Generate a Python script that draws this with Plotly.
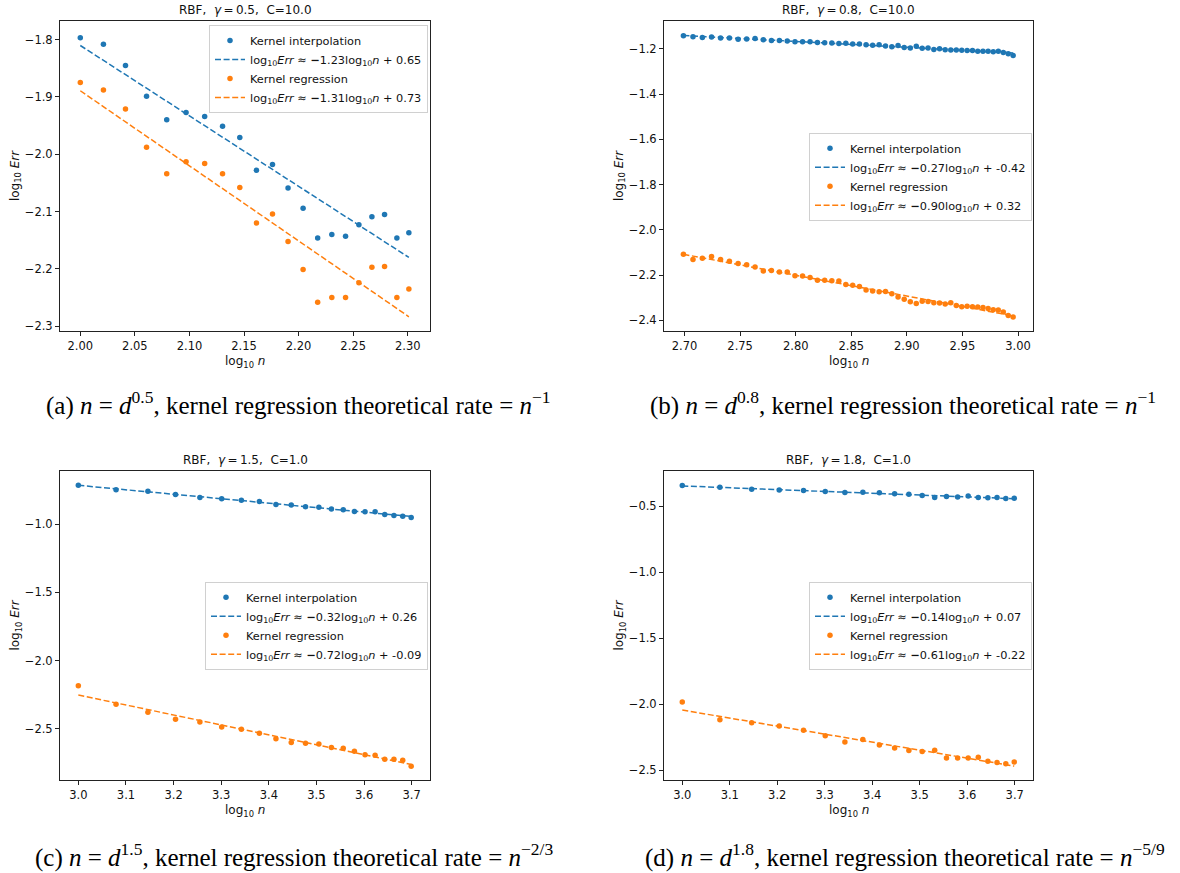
import numpy as np
import plotly.graph_objects as go

W, H = 1180, 873

# ---------------- data ----------------
# (a) gamma=0.5, C=10
n_a = [100, 105, 110, 115, 120, 125, 130, 135, 140, 145, 150,
       155, 160, 165, 170, 175, 180, 185, 190, 195, 200]
interp_a = [-1.797, -1.808, -1.845, -1.899, -1.940, -1.927, -1.934, -1.951, -1.971, -2.028, -2.018,
            -2.059, -2.094, -2.146, -2.140, -2.143, -2.123, -2.109, -2.105, -2.146, -2.137]
regr_a = [-1.875, -1.888, -1.921, -1.988, -2.034, -2.013, -2.016, -2.034, -2.058, -2.120, -2.104,
          -2.152, -2.201, -2.258, -2.250, -2.250, -2.224, -2.197, -2.196, -2.250, -2.235]

# (b) gamma=0.8, C=10
n_b = [500, 510, 520, 530, 540, 550, 560, 570, 580, 590,
       600, 610, 620, 630, 640, 650, 660, 670, 680, 690,
       700, 710, 720, 730, 740, 750, 760, 770, 780, 790,
       800, 810, 820, 830, 840, 850, 860, 870, 880, 890,
       900, 910, 920, 930, 940, 950, 960, 970, 980, 990]
interp_b = [-1.141, -1.146, -1.149, -1.147, -1.151, -1.151, -1.157, -1.156, -1.154, -1.159,
            -1.162, -1.162, -1.165, -1.168, -1.168, -1.168, -1.171, -1.172, -1.174, -1.176,
            -1.175, -1.178, -1.178, -1.181, -1.184, -1.181, -1.187, -1.190, -1.185, -1.193,
            -1.196, -1.188, -1.197, -1.196, -1.202, -1.199, -1.203, -1.204, -1.204, -1.206,
            -1.207, -1.207, -1.210, -1.210, -1.210, -1.212, -1.210, -1.216, -1.221, -1.229]
regr_b = [-2.108, -2.131, -2.125, -2.117, -2.131, -2.138, -2.148, -2.154, -2.164, -2.182,
          -2.179, -2.186, -2.186, -2.203, -2.204, -2.210, -2.223, -2.223, -2.225, -2.226,
          -2.241, -2.245, -2.250, -2.266, -2.270, -2.273, -2.272, -2.282, -2.297, -2.307,
          -2.318, -2.325, -2.315, -2.316, -2.322, -2.323, -2.328, -2.322, -2.334, -2.340,
          -2.337, -2.340, -2.341, -2.343, -2.348, -2.353, -2.354, -2.363, -2.378, -2.385]

# (c) gamma=1.5, C=1
n_c = [1000, 1200, 1400, 1600, 1800, 2000, 2200, 2400, 2600, 2800, 3000,
       3200, 3400, 3600, 3800, 4000, 4200, 4400, 4600, 4800, 5000]
interp_c = [-0.715, -0.749, -0.759, -0.783, -0.805, -0.815, -0.825, -0.834, -0.856, -0.861, -0.873,
            -0.876, -0.890, -0.895, -0.907, -0.910, -0.910, -0.929, -0.937, -0.942, -0.951]
regr_c = [-2.183, -2.320, -2.378, -2.429, -2.449, -2.485, -2.502, -2.532, -2.571, -2.600, -2.605,
          -2.610, -2.636, -2.641, -2.663, -2.688, -2.692, -2.722, -2.722, -2.729, -2.773]

# (d) gamma=1.8, C=1
n_d = n_c
interp_d = [-0.344, -0.356, -0.372, -0.377, -0.382, -0.389, -0.397, -0.394, -0.399, -0.407, -0.409,
            -0.419, -0.435, -0.427, -0.430, -0.424, -0.435, -0.437, -0.435, -0.442, -0.440]
regr_d = [-1.984, -2.117, -2.140, -2.165, -2.198, -2.238, -2.286, -2.268, -2.309, -2.331, -2.351,
          -2.359, -2.349, -2.407, -2.407, -2.407, -2.402, -2.432, -2.442, -2.450, -2.437]

# legend coefficients [interpolation, regression]
slopes = {"a": [-1.23, -1.31], "b": [-0.27, -0.90], "c": [-0.32, -0.72], "d": [-0.14, -0.61]}
intercepts = {"a": [0.65, 0.73], "b": [-0.42, 0.32], "c": [0.26, -0.09], "d": [0.07, -0.22]}

titles = {"a": "RBF,\u00a0\u00a0<i>γ</i>\u2009=\u20090.5,\u00a0\u00a0C=10.0",
          "b": "RBF,\u00a0\u00a0<i>γ</i>\u2009=\u20090.8,\u00a0\u00a0C=10.0",
          "c": "RBF,\u00a0\u00a0<i>γ</i>\u2009=\u20091.5,\u00a0\u00a0C=1.0",
          "d": "RBF,\u00a0\u00a0<i>γ</i>\u2009=\u20091.8,\u00a0\u00a0C=1.0"}

EQ = " = "
captions = {
    "a": f"(a) <i>n</i>{EQ}<i>d</i><sup>0.5</sup>, kernel regression theoretical rate{EQ}<i>n</i><sup>−1</sup>",
    "b": f"(b) <i>n</i>{EQ}<i>d</i><sup>0.8</sup>, kernel regression theoretical rate{EQ}<i>n</i><sup>−1</sup>",
    "c": f"(c) <i>n</i>{EQ}<i>d</i><sup>1.5</sup>, kernel regression theoretical rate{EQ}<i>n</i><sup>−2/3</sup>",
    "d": f"(d) <i>n</i>{EQ}<i>d</i><sup>1.8</sup>, kernel regression theoretical rate{EQ}<i>n</i><sup>−5/9</sup>",
}

x_ticks = {"a": [2.00, 2.05, 2.10, 2.15, 2.20, 2.25, 2.30],
           "b": [2.70, 2.75, 2.80, 2.85, 2.90, 2.95, 3.00],
           "c": [3.0, 3.1, 3.2, 3.3, 3.4, 3.5, 3.6, 3.7],
           "d": [3.0, 3.1, 3.2, 3.3, 3.4, 3.5, 3.6, 3.7]}
y_ticks = {"a": [-1.8, -1.9, -2.0, -2.1, -2.2, -2.3],
           "b": [-1.2, -1.4, -1.6, -1.8, -2.0, -2.2, -2.4],
           "c": [-1.0, -1.5, -2.0, -2.5],
           "d": [-0.5, -1.0, -1.5, -2.0, -2.5]}

# ---------------- layout geometry (pixels) ----------------
BLUE, ORANGE = "#1f77b4", "#ff7f0e"
FONT = "DejaVu Sans"
SERIF = "Liberation Serif"

boxes = {  # left, right, top, bottom in pixels
    "a": (60, 430, 21, 332),
    "b": (664, 1033, 21, 332),
    "c": (60, 430, 472, 782),
    "d": (664, 1033, 472, 782),
}
xranges = {"a": [1.9814, 2.3204], "b": [2.6815, 3.0135], "c": [2.9615, 3.7385], "d": [2.9615, 3.7385]}
yranges = {"a": [-2.3087, -1.7675], "b": [-2.4480, -1.0760], "c": [-2.8753, -0.6107], "d": [-2.5756, -0.2332]}
legend_pos = {"a": (209, 25), "b": (809, 133), "c": (205, 583), "d": (809, 583)}
xfmt = {"a": ".2f", "b": ".2f", "c": ".1f", "d": ".1f"}
caption_pos = {"a": (298, 404), "b": (903, 404), "c": (294, 857), "d": (905, 857)}


def px(x):
    return x / W


def py(y):
    return 1 - y / H


data = {"a": (n_a, interp_a, regr_a), "b": (n_b, interp_b, regr_b),
        "c": (n_c, interp_c, regr_c), "d": (n_d, interp_d, regr_d)}

fig = go.Figure()
annotations = []

for i, key in enumerate(["a", "b", "c", "d"]):
    sfx = "" if i == 0 else str(i + 1)
    xa, ya = "x" + sfx, "y" + sfx
    leg = "legend" + sfx
    n, y_int, y_reg = data[key]
    lx = np.log10(np.array(n, dtype=float))
    for j, (vals, color, name) in enumerate([(y_int, BLUE, "Kernel interpolation"),
                                             (y_reg, ORANGE, "Kernel regression")]):
        vals = np.array(vals)
        fig.add_trace(go.Scatter(x=lx, y=vals, mode="markers", name=name,
                                 marker=dict(color=color, size=5.5, line=dict(width=0)),
                                 xaxis=xa, yaxis=ya, legend=leg))
        coef = np.polyfit(lx, vals, 1)
        xe = np.array([lx.min(), lx.max()])
        s, b = slopes[key][j], intercepts[key][j]
        label = (f"log<sub>10</sub><i>Err</i> ≈ <b>−</b>{abs(s):.2f}log<sub>10</sub><i>n</i>"
                 f" + {b:.2f}")
        fig.add_trace(go.Scatter(x=xe, y=np.polyval(coef, xe), mode="lines", name=label,
                                 line=dict(color=color, width=1.5, dash="6px,2.6px"),
                                 xaxis=xa, yaxis=ya, legend=leg))

    l, r, t, btm = boxes[key]
    axis_common = dict(showline=True, linecolor="#222", linewidth=1, mirror=True,
                       ticks="outside", ticklen=4, tickwidth=1, tickcolor="#222",
                       showgrid=False, zeroline=False,
                       tickfont=dict(family=FONT, size=11.5, color="#111"))
    fig.update_layout(**{
        "xaxis" + sfx: dict(domain=[px(l), px(r)], anchor=ya, range=xranges[key],
                            tickvals=x_ticks[key], tickformat=xfmt[key], **axis_common),
        "yaxis" + sfx: dict(domain=[py(btm), py(t)], anchor=xa, range=yranges[key],
                            tickvals=y_ticks[key], tickformat=".1f", **axis_common),
        leg: dict(x=px(legend_pos[key][0]), y=py(legend_pos[key][1]),
                  xanchor="left", yanchor="top", bgcolor="rgba(255,255,255,0.85)",
                  bordercolor="#d0d0d0", borderwidth=1,
                  font=dict(family=FONT, size=11.3, color="#111"),
                  tracegroupgap=0, itemwidth=30),
    })
    cx = (l + r) / 2
    # title
    annotations.append(dict(text=titles[key], x=px(cx), y=py(t - 11), xref="paper", yref="paper",
                            showarrow=False, xanchor="center", yanchor="middle",
                            font=dict(family=FONT, size=12, color="#111")))
    # x label
    annotations.append(dict(text="log<sub>10</sub> <i>n</i>", x=px(cx), y=py(btm + 31),
                            xref="paper", yref="paper", showarrow=False,
                            xanchor="center", yanchor="middle",
                            font=dict(family=FONT, size=12, color="#111")))
    # y label
    annotations.append(dict(text="log<sub>10</sub> <i>Err</i>", x=px(l - 44), y=py((t + btm) / 2),
                            xref="paper", yref="paper", showarrow=False, textangle=-90,
                            xanchor="center", yanchor="middle",
                            font=dict(family=FONT, size=12, color="#111")))
    # caption
    cpx, cpy = caption_pos[key]
    annotations.append(dict(text=captions[key], x=px(cpx), y=py(cpy), xref="paper", yref="paper",
                            showarrow=False, xanchor="center", yanchor="middle",
                            font=dict(family=SERIF, size=25, color="#000")))

fig.update_layout(width=W, height=H, margin=dict(l=0, r=0, t=0, b=0),
                  paper_bgcolor="white", plot_bgcolor="white",
                  showlegend=True, annotations=annotations)

fig.write_html("out.html", config={"displayModeBar": False},
               post_script="document.body.style.margin='0';document.body.style.overflow='hidden';")
